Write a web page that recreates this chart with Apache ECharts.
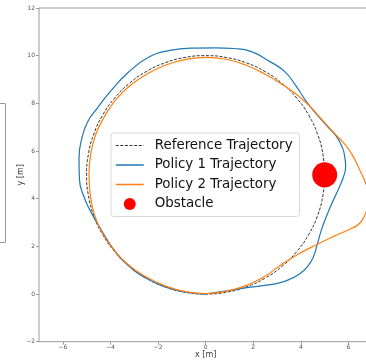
<!DOCTYPE html>
<html>
<head>
<meta charset="utf-8">
<script src="https://cdn.jsdelivr.net/npm/echarts@6/dist/echarts.min.js"></script>
<style>
html,body{margin:0;padding:0;background:#fff;}
#chart{width:366px;height:362px;}
</style>
</head>
<body>
<div id="chart"></div>
<script>
// Tick labels
var xTicks = [-6, -4, -2, 0, 2, 4, 6];
var yTicks = [-2, 0, 2, 4, 6, 8, 10, 12];

// Reference trajectory
var refX = [5, 4.924, 4.698, 4.330, 3.830, 3.214, 2.5, 1.710, 0.868, 0, -0.868, -1.710, -2.5, -3.214, -3.830, -4.330, -4.698, -4.924, -5, -4.924, -4.698, -4.330, -3.830, -3.214, -2.5, -1.710, -0.868, 0, 0.868, 1.710, 2.5, 3.214, 3.830, 4.330, 4.698, 4.924, 5];
var refY = [5, 5.868, 6.710, 7.5, 8.214, 8.830, 9.330, 9.698, 9.924, 10, 9.924, 9.698, 9.330, 8.830, 8.214, 7.5, 6.710, 5.868, 5, 4.132, 3.290, 2.5, 1.786, 1.170, 0.670, 0.302, 0.076, 0, 0.076, 0.302, 0.670, 1.170, 1.786, 2.5, 3.290, 4.132, 5];

// Policy 1 trajectory
var p1X = [0, 0.8, 1.6, 2.4, 3.1, 3.6, 3.95, 4.25, 4.5, 4.68, 4.85, 5.05, 5.3, 5.6, 5.8, 5.88, 5.84, 5.76, 5.5, 5.1, 4.7, 4.25, 3.75, 3.3, 2.7, 1.9, 1.2, 0.4, -0.5, -1.5, -2.4, -3.3, -4.0, -4.55, -4.97, -5.22, -5.32, -5.3, -5.12, -4.85, -4.42, -3.85, -3.25, -2.5, -1.7, -0.85, 0];
var p1Y = [0, 0.12, 0.25, 0.35, 0.47, 0.65, 0.85, 1.12, 1.5, 2.05, 2.65, 3.2, 3.8, 4.45, 4.95, 5.35, 5.75, 6.1, 6.6, 7.05, 7.5, 8.05, 8.8, 9.35, 9.75, 10.18, 10.3, 10.33, 10.32, 10.22, 9.93, 9.25, 8.5, 7.8, 7.2, 6.45, 5.7, 4.8, 4.1, 3.5, 2.75, 1.85, 1.2, 0.66, 0.3, 0.08, 0];

// Policy 2 trajectory
var p2X = [0, 0.9, 1.8, 2.5, 3.2, 3.9, 4.65, 5.4, 6.05, 6.45, 6.68, 6.8, 6.8, 6.68, 6.45, 6.15, 5.85, 5.4, 4.9, 4.4, 3.85, 3.2, 2.5, 1.7, 0.85, 0, -0.85, -1.7, -2.48, -3.18, -3.78, -4.25, -4.62, -4.83, -4.9, -4.85, -4.68, -4.35, -3.85, -3.25, -2.5, -1.7, -0.85, 0];
var p2Y = [0.02, 0.12, 0.4, 0.75, 1.25, 1.68, 2.07, 2.43, 2.72, 2.95, 3.3, 3.8, 4.3, 4.75, 5.25, 5.85, 6.28, 6.75, 7.3, 7.85, 8.35, 8.8, 9.22, 9.6, 9.85, 9.93, 9.84, 9.6, 9.22, 8.74, 8.15, 7.45, 6.68, 5.85, 5.0, 4.2, 3.35, 2.58, 1.85, 1.23, 0.72, 0.34, 0.1, 0.02];

// Obstacle
var obstacle = [[5, 5]];

function zip(a, b) { return a.map(function (v, i) { return [v, b[i]]; }); }
function fmt(v) { return String(v).replace('-', '\u2212'); }

var chart = echarts.init(document.getElementById('chart'), null, {renderer: 'canvas'});
var font = 'DejaVu Sans';
var hideSym = {color: 'rgba(0,0,0,0)', borderWidth: 0};
chart.setOption({
  animation: false,
  backgroundColor: '#fff',
  textStyle: {fontFamily: font},
  grid: {left: 39, top: 8, right: -6.3, bottom: 20.3, outerBoundsMode: 'none', containLabel: false,
         show: true, borderColor: '#9a9a9a', borderWidth: 1, backgroundColor: 'transparent'},
  xAxis: {
    type: 'value', min: -7, max: 7,
    name: 'x [m]', nameLocation: 'middle', nameGap: 9.5, nameMoveOverlap: false,
    nameTextStyle: {fontSize: 8, color: '#333', fontFamily: font},
    axisLine: {show: false, onZero: false},
    axisTick: {show: true, length: 3, lineStyle: {color: '#9a9a9a'}, customValues: xTicks},
    axisLabel: {customValues: xTicks, fontSize: 6, color: '#555', margin: 3, fontFamily: font, formatter: fmt},
    splitLine: {show: false}
  },
  yAxis: {
    type: 'value', min: -2, max: 12, interval: 2,
    name: 'y [m]', nameLocation: 'middle', nameGap: 14, nameMoveOverlap: false,
    nameTextStyle: {fontSize: 8, color: '#333', fontFamily: font},
    axisLine: {show: false, onZero: false},
    axisTick: {show: true, length: 3, lineStyle: {color: '#9a9a9a'}},
    axisLabel: {fontSize: 6, color: '#555', margin: 4, fontFamily: font, formatter: fmt},
    splitLine: {show: false}
  },
  legend: {
    orient: 'vertical', left: 111, top: 133,
    padding: [6, 7, 6, 4], itemGap: 6.5, itemWidth: 28, itemHeight: 12,
    backgroundColor: 'rgba(255,255,255,0.85)', borderColor: '#d8d8d8', borderWidth: 1, borderRadius: 3,
    textStyle: {fontSize: 13.4, color: '#111', fontFamily: font, padding: [0, 0, 0, 6]},
    data: [
      {name: 'Reference Trajectory', itemStyle: hideSym, lineStyle: {width: 1.2}},
      {name: 'Policy 1 Trajectory', itemStyle: hideSym, lineStyle: {width: 1.5}},
      {name: 'Policy 2 Trajectory', itemStyle: hideSym, lineStyle: {width: 1.5}},
      {name: 'Obstacle'}
    ]
  },
  graphic: [{
    type: 'rect', left: -2, top: 103, shape: {width: 7, height: 139},
    style: {fill: '#fff', stroke: '#9a9a9a', lineWidth: 1}
  }],
  series: [
    {name: 'Reference Trajectory', type: 'line', data: zip(refX, refY), smooth: true, symbol: 'none',
     lineStyle: {color: '#333', width: 1, type: [3, 1.6]}, itemStyle: {color: '#333'}, z: 2},
    {name: 'Policy 1 Trajectory', type: 'line', data: zip(p1X, p1Y), smooth: true, symbol: 'none',
     lineStyle: {color: '#1f77b4', width: 1.2}, itemStyle: {color: '#1f77b4'}, z: 3},
    {name: 'Policy 2 Trajectory', type: 'line', data: zip(p2X, p2Y), smooth: true, symbol: 'none',
     lineStyle: {color: '#ff7f0e', width: 1.2}, itemStyle: {color: '#ff7f0e'}, z: 4},
    {name: 'Obstacle', type: 'scatter', data: obstacle, symbol: 'circle', symbolSize: 25,
     itemStyle: {color: '#ff0000', opacity: 1}, z: 5}
  ]
});
</script>
</body>
</html>
